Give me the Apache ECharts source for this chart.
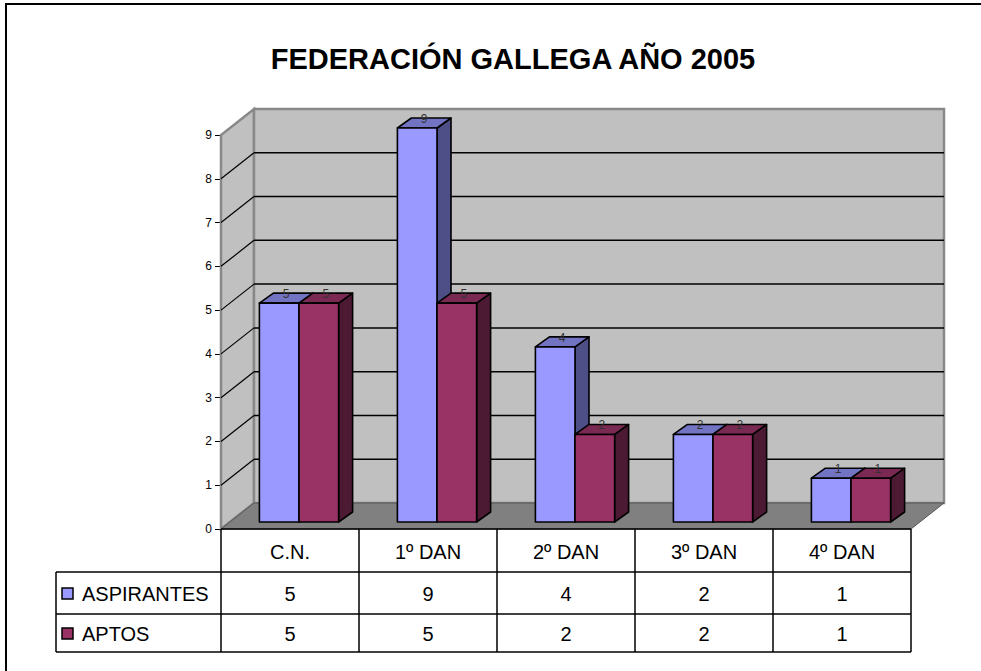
<!DOCTYPE html>
<html>
<head>
<meta charset="utf-8">
<style>
  html, body { margin: 0; padding: 0; background: #fff; }
  #chart { width: 981px; height: 671px; }
</style>
<script src="https://cdn.jsdelivr.net/npm/echarts@6/dist/echarts.min.js"></script>
</head>
<body>
<div id="chart"></div>
<script>
// datos
const categories = ['C.N.', '1º DAN', '2º DAN', '3º DAN', '4º DAN'];
const seriesNames = ['ASPIRANTES', 'APTOS'];
const aspirantes = [5, 9, 4, 2, 1];
const aptos = [5, 5, 2, 2, 1];
const yMax = 9;
const yInterval = 1;

// colores (frente, techo, lateral)
const palette = [
  ['#9999FF', '#7373C4', '#4F4F88'],
  ['#993366', '#7A2952', '#4D1A33']
];

const FONT = 'Liberation Sans, Arial, sans-serif';
// profundidad de las paredes y de las barras
const DX = 33, DY = -26;
const OX = 9, OY = -7;
const BDX = 14, BDY = -10;

const chart = echarts.init(document.getElementById('chart'), null, { renderer: 'svg' });

// paredes, suelo y lineas de division
function renderWalls(params, api) {
  const cs = params.coordSys;
  const x0 = cs.x, x1 = cs.x + cs.width;
  const yb = api.coord([0, 0])[1];
  const yt = api.coord([0, yMax])[1];
  const children = [];
  const wallStyle = { fill: '#C0C0C0', stroke: '#888', lineWidth: 2.5 };
  children.push({ type: 'polygon', shape: { points: [[x0, yb], [x0 + DX, yb + DY], [x0 + DX, yt + DY], [x0, yt]] }, style: wallStyle });
  children.push({ type: 'rect', shape: { x: x0 + DX, y: yt + DY, width: x1 - x0, height: yb - yt }, style: wallStyle });
  children.push({ type: 'polygon', shape: { points: [[x0, yb], [x1, yb], [x1 + DX, yb + DY], [x0 + DX, yb + DY]] }, style: { fill: '#808080', stroke: '#555', lineWidth: 1 } });
  for (let v = yInterval; v < yMax; v += yInterval) {
    const y = api.coord([0, v])[1];
    children.push({ type: 'line', shape: { x1: x0, y1: y, x2: x0 + DX, y2: y + DY }, style: { stroke: '#000', lineWidth: 1.2 } });
    children.push({ type: 'line', shape: { x1: x0 + DX, y1: y + DY, x2: x1 + DX, y2: y + DY }, style: { stroke: '#000', lineWidth: 1.5 } });
  }
  children.push({ type: 'line', shape: { x1: x0, y1: yb, x2: x1, y2: yb }, style: { stroke: '#000', lineWidth: 1.5 } });
  return { type: 'group', children: children };
}

// barras 3D
function makeBarRenderer(s) {
  return function (params, api) {
    const cat = api.value(0);
    const val = api.value(1);
    const base = api.coord([cat, 0]);
    const top = api.coord([cat, val]);
    const bw = api.size([1, 0])[0] * 0.287;
    const xl = base[0] + OX - bw + s * bw;
    const xr = xl + bw;
    const yb = base[1] + OY;
    const yt = top[1] + OY;
    const c = palette[s];
    const st = { stroke: '#000', lineWidth: 1.6, lineJoin: 'round' };
    return {
      type: 'group',
      children: [
        { type: 'polygon', shape: { points: [[xr, yb], [xr + BDX, yb + BDY], [xr + BDX, yt + BDY], [xr, yt]] }, style: Object.assign({ fill: c[2] }, st) },
        { type: 'polygon', shape: { points: [[xl, yt], [xr, yt], [xr + BDX, yt + BDY], [xl + BDX, yt + BDY]] }, style: Object.assign({ fill: c[1] }, st) },
        { type: 'rect', shape: { x: xl, y: yt, width: bw, height: yb - yt }, style: Object.assign({ fill: c[0] }, st) },
        { type: 'text', style: { text: String(val), x: xl + bw / 2 + BDX / 2, y: yt - 9, textAlign: 'center', textVerticalAlign: 'middle', font: '12px ' + FONT, fill: '#333' } }
      ]
    };
  };
}

// tabla de datos
function renderTable(params, api) {
  const i = api.value(0);
  const c = api.coord([i, 0]);
  const bw = api.size([1, 0])[0];
  const xl = c[0] - bw / 2, xr = c[0] + bw / 2;
  const y0 = c[1], y1 = y0 + 43, y2 = y0 + 85, y3 = y0 + 123;
  const ln = { stroke: '#000', lineWidth: 1.5 };
  const tx = (t, x, y, align) => ({ type: 'text', style: { text: t, x: x, y: y, textAlign: align || 'center', textVerticalAlign: 'middle', font: '20px ' + FONT, fill: '#000' } });
  const children = [
    { type: 'line', shape: { x1: xr, y1: y0, x2: xr, y2: y3 }, style: ln },
    { type: 'line', shape: { x1: xl, y1: y1, x2: xr, y2: y1 }, style: ln },
    { type: 'line', shape: { x1: xl, y1: y2, x2: xr, y2: y2 }, style: ln },
    { type: 'line', shape: { x1: xl, y1: y3, x2: xr, y2: y3 }, style: ln },
    tx(categories[i], c[0], (y0 + y1) / 2 + 1),
    tx(String(api.value(1)), c[0], (y1 + y2) / 2 + 1),
    tx(String(api.value(2)), c[0], (y2 + y3) / 2 + 1)
  ];
  if (i === 0) {
    const lx = xl - 165;
    children.push({ type: 'line', shape: { x1: xl, y1: y0, x2: xl, y2: y3 }, style: ln });
    children.push({ type: 'line', shape: { x1: lx, y1: y1, x2: xl, y2: y1 }, style: ln });
    children.push({ type: 'line', shape: { x1: lx, y1: y2, x2: xl, y2: y2 }, style: ln });
    children.push({ type: 'line', shape: { x1: lx, y1: y3, x2: xl, y2: y3 }, style: ln });
    children.push({ type: 'line', shape: { x1: lx, y1: y1, x2: lx, y2: y3 }, style: ln });
    [[y1, y2], [y2, y3]].forEach(function (r, s) {
      const ym = (r[0] + r[1]) / 2;
      children.push({ type: 'rect', shape: { x: lx + 6, y: ym - 5, width: 11, height: 11 }, style: { fill: palette[s][0], stroke: '#000', lineWidth: 1.5 } });
      children.push(tx(seriesNames[s], lx + 26, ym + 1, 'left'));
    });
  }
  return { type: 'group', children: children };
}

chart.setOption({
  animation: false,
  title: {
    text: 'FEDERACIÓN GALLEGA AÑO 2005',
    left: 508,
    top: 39,
    textAlign: 'center',
    textStyle: { fontFamily: FONT, fontSize: 29, fontWeight: 'bold', color: '#000' }
  },
  graphic: [
    { type: 'rect', shape: { x: 6, y: 4, width: 1000, height: 700 }, style: { fill: 'none', stroke: '#000', lineWidth: 2 }, silent: true }
  ],
  grid: { left: 221, right: 70, top: 135, bottom: 142 },
  xAxis: {
    type: 'category',
    data: categories,
    axisLine: { show: false },
    axisTick: { show: false },
    axisLabel: { show: false }
  },
  yAxis: {
    type: 'value',
    min: 0,
    max: yMax,
    interval: yInterval,
    axisLine: { show: true, lineStyle: { color: '#000', width: 1.2 } },
    axisTick: { show: true, length: 6, lineStyle: { color: '#000' } },
    axisLabel: { color: '#000', fontSize: 12, fontFamily: FONT, margin: 9 },
    splitLine: { show: false }
  },
  series: [
    { type: 'custom', data: [[0]], renderItem: renderWalls, silent: true, z: 1 },
    { type: 'custom', name: seriesNames[0], data: aspirantes.map((v, i) => [i, v]), renderItem: makeBarRenderer(0), z: 2 },
    { type: 'custom', name: seriesNames[1], data: aptos.map((v, i) => [i, v]), renderItem: makeBarRenderer(1), z: 3 },
    { type: 'custom', data: categories.map((c, i) => [i, aspirantes[i], aptos[i]]), renderItem: renderTable, silent: true, z: 4 }
  ]
});
</script>
</body>
</html>
